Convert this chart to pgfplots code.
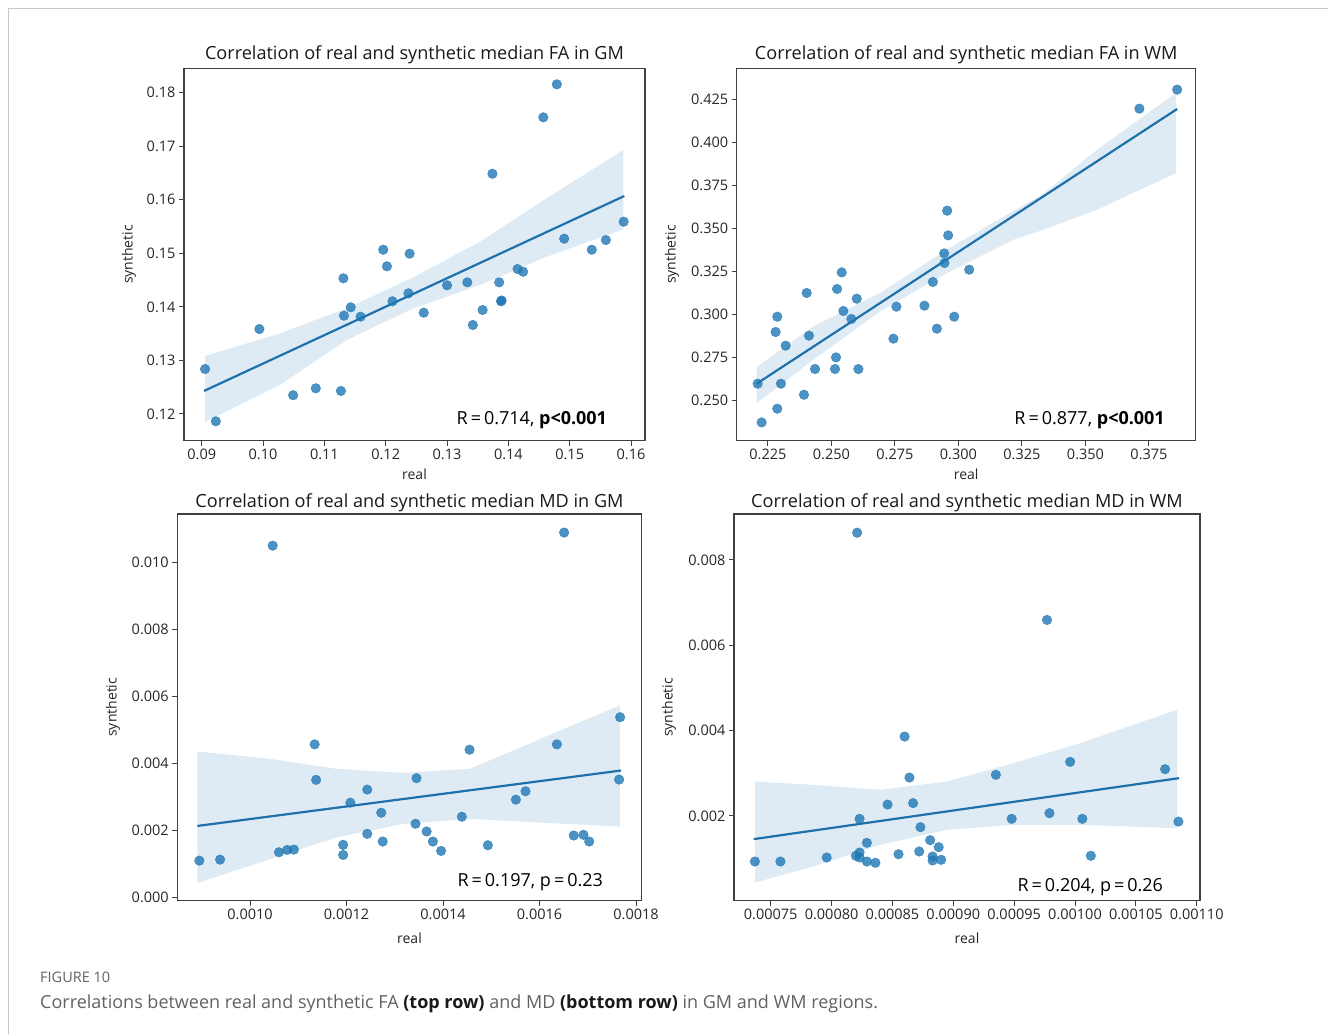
\documentclass[border=0pt]{standalone}
\usepackage{fontspec}
\setmainfont{Open Sans}
\usepackage{pgfplots}
\pgfplotsset{compat=1.18}

\definecolor{sbblue}{RGB}{31,119,180}

\tikzset{stat/.style={font=\fontsize{18}{21}\selectfont, anchor=base east, inner sep=0pt}}

\pgfplotsset{
  every axis title/.style={at={(0.5,1)}, anchor=base, font=\fontsize{18.1}{21}\selectfont, text=black!90},
  corr/.style={
    scale only axis,
    anchor=north west,
    axis line style={black!75, line width=1.1pt},
    tick align=outside,
    tick pos=left,
    major tick length=5pt,
    tick style={black!75, line width=1pt},
    ticklabel style={font=\fontsize{14.5}{16}\selectfont, text=black!85},
    scaled ticks=false,
    /pgf/number format/assume math mode=true,
    xlabel={real}, ylabel={synthetic},
    label style={font=\fontsize{14}{16}\selectfont, text=black!85},
  },
  dots/.style={only marks, mark=*, mark size=4.8pt,
    mark options={sbblue, opacity=0.8}},
  fitline/.style={sbblue!95!black, line width=2.2pt, no marks},
  band/.style={fill=sbblue, fill opacity=0.15, draw=none},
}

\begin{document}
\begin{tikzpicture}
\path[use as bounding box] (0,0) rectangle (1328pt,-1034pt);
\draw[black!22, line width=1pt] (8pt,-1034pt) -- (8pt,-8pt) -- (1328pt,-8pt);

% ---- FA in GM ----
\begin{axis}[corr,
  at={(184pt,-68.3pt)}, width=461pt, height=372.4pt,
  title={Correlation of real and synthetic median FA in GM},
  title style={yshift=9.3pt},
  xmin=0.08711, xmax=0.16228, ymin=0.11501, ymax=0.18456,
  xtick={0.09,0.10,0.11,0.12,0.13,0.14,0.15,0.16},
  ytick={0.12,0.13,0.14,0.15,0.16,0.17,0.18},
  xticklabel style={/pgf/number format/.cd, fixed, fixed zerofill, precision=2},
  yticklabel style={/pgf/number format/.cd, fixed, fixed zerofill, precision=2},
  xlabel style={at={(0.5,0)}, anchor=base, yshift=-38.3pt},
  ylabel style={at={(0,0.5)}, anchor=center, yshift=55pt},
]
\addplot[band] coordinates {
  (0.09054,0.13083) (0.10277,0.13507) (0.11364,0.13973) (0.12450,0.14552)
  (0.13538,0.15218) (0.14625,0.16028) (0.15875,0.16930)
  (0.15875,0.15449) (0.14625,0.14938) (0.13538,0.14409) (0.12450,0.13973)
  (0.11364,0.13382) (0.10277,0.12542) (0.09054,0.11857)} -- cycle;
\addplot[dots] coordinates {
  (0.09054,0.1284) (0.0923,0.11864) (0.0994,0.13587) (0.1049,0.1235)
  (0.1086,0.1248) (0.1127,0.1243) (0.1131,0.14534) (0.1132,0.13836)
  (0.1143,0.13992) (0.1159,0.13817) (0.1196,0.15068) (0.1202,0.14758)
  (0.1211,0.14105) (0.1237,0.14254) (0.1239,0.14994) (0.1262,0.13892)
  (0.1300,0.14403) (0.1333,0.14459) (0.1342,0.13662) (0.1358,0.13942)
  (0.1374,0.16487) (0.1385,0.14459) (0.1388,0.14105) (0.1389,0.1412)
  (0.1415,0.14708) (0.1424,0.14657) (0.1457,0.1754) (0.1479,0.18157)
  (0.1491,0.15274) (0.1536,0.15068) (0.1559,0.15249) (0.1588,0.15591)};
\addplot[fitline] coordinates {(0.09037,0.12430) (0.15891,0.16071)};
\node[stat] at (rel axis cs:0.918,0.044) {R\,=\,0.714, \textbf{p<0.001}};
\end{axis}

% ---- FA in WM ----
\begin{axis}[corr,
  at={(736.7pt,-68.3pt)}, width=459pt, height=372.4pt,
  title={Correlation of real and synthetic median FA in WM},
  title style={yshift=9.3pt},
  xmin=0.2127, xmax=0.3934, ymin=0.22631, ymax=0.44304,
  xtick={0.225,0.25,0.275,0.3,0.325,0.35,0.375},
  ytick={0.25,0.275,0.3,0.325,0.35,0.375,0.4,0.425},
  xticklabel style={/pgf/number format/.cd, fixed, fixed zerofill, precision=3},
  yticklabel style={/pgf/number format/.cd, fixed, fixed zerofill, precision=3},
  xlabel style={at={(0.5,0)}, anchor=base, yshift=-38.3pt},
  ylabel style={at={(0,0.5)}, anchor=center, yshift=64.7pt},
]
\addplot[band] coordinates {
  (0.22055,0.26913) (0.24286,0.29284) (0.26915,0.31228) (0.29544,0.33749)
  (0.32169,0.36) (0.33351,0.37008) (0.35456,0.39569) (0.3857,0.4287)
  (0.3857,0.38213) (0.35456,0.36077) (0.33351,0.34913) (0.32169,0.34331)
  (0.29544,0.32392) (0.26915,0.30157) (0.24286,0.27346) (0.22055,0.24825)} -- cycle;
\addplot[dots] coordinates {
  (0.22094,0.25949) (0.22252,0.23696) (0.22803,0.28958) (0.22867,0.29849)
  (0.22867,0.24494) (0.23012,0.25949) (0.23197,0.28161) (0.23919,0.25308)
  (0.24025,0.31228) (0.24116,0.28743) (0.24353,0.26804) (0.25141,0.26804)
  (0.25180,0.2748) (0.2522,0.31461) (0.25405,0.32427) (0.25468,0.3018)
  (0.25783,0.29715) (0.25996,0.30896) (0.2606,0.268) (0.27439,0.28568)
  (0.27557,0.30431) (0.28661,0.30489) (0.28992,0.31868) (0.2915,0.2915)
  (0.29437,0.33533) (0.2945,0.32974) (0.29556,0.36019) (0.29595,0.34581)
  (0.29832,0.29849) (0.30423,0.32584) (0.37124,0.41956) (0.3861,0.43062)};
\addplot[fitline] coordinates {(0.22055,0.25949) (0.3861,0.41938)};
\node[stat] at (rel axis cs:0.933,0.044) {R\,=\,0.877, \textbf{p<0.001}};
\end{axis}

% ---- MD in GM ----
\begin{axis}[corr,
  at={(177.3pt,-514pt)}, width=464.4pt, height=386.5pt,
  title={Correlation of real and synthetic median MD in GM},
  title style={yshift=7pt},
  xmin=0.0008493, xmax=0.0018118, ymin=-0.00009, ymax=0.011444,
  xtick={0.001,0.0012,0.0014,0.0016,0.0018},
  ytick={0,0.002,0.004,0.006,0.008,0.01},
  xticklabel style={/pgf/number format/.cd, fixed, fixed zerofill, precision=4},
  yticklabel style={/pgf/number format/.cd, fixed, fixed zerofill, precision=3},
  xlabel style={at={(0.5,0)}, anchor=base, yshift=-42.5pt},
  ylabel style={at={(0,0.5)}, anchor=center, yshift=64.3pt},
]
\addplot[band] coordinates {
  (0.000891,0.004357) (0.0010415,0.004139) (0.0011797,0.00384) (0.0013177,0.00372)
  (0.001456,0.00384) (0.0015942,0.004686) (0.0017668,0.005733)
  (0.0017668,0.002114) (0.0015942,0.002243) (0.001456,0.002344) (0.0013177,0.002195)
  (0.0011797,0.001794) (0.0010415,0.001148) (0.000891,0.00043)} -- cycle;
\addplot[dots] coordinates {
  (0.000895,0.0011) (0.000938,0.00113) (0.001047,0.0105) (0.00106,0.00135)
  (0.001077,0.00142) (0.001091,0.00143) (0.001134,0.00457) (0.001137,0.00351)
  (0.001193,0.00157) (0.001193,0.00127) (0.001208,0.00283) (0.001243,0.00322)
  (0.001243,0.0019) (0.001272,0.00253) (0.001275,0.00167) (0.001345,0.00356)
  (0.001343,0.0022) (0.001366,0.00197) (0.001379,0.00167) (0.001396,0.00139)
  (0.001439,0.00241) (0.001455,0.00441) (0.001493,0.00156) (0.001551,0.00292)
  (0.001571,0.00317) (0.001636,0.00457) (0.001651,0.01089) (0.001671,0.00185)
  (0.001691,0.00187) (0.001703,0.00167) (0.001765,0.00352) (0.001767,0.00538)};
\addplot[fitline] coordinates {(0.000891,0.002135) (0.001769,0.003789)};
\node[stat] at (rel axis cs:0.917,0.0375) {R\,=\,0.197, p\,=\,0.23};
\end{axis}

% ---- MD in WM ----
\begin{axis}[corr,
  at={(734pt,-514pt)}, width=466pt, height=386.7pt,
  title={Correlation of real and synthetic median MD in WM},
  title style={yshift=7pt},
  xmin=0.00071985, xmax=0.0011027, ymin=0.00001, ymax=0.009078,
  xtick={0.00075,0.0008,0.00085,0.0009,0.00095,0.001,0.00105,0.0011},
  ytick={0.002,0.004,0.006,0.008},
  xticklabel style={/pgf/number format/.cd, fixed, fixed zerofill, precision=5},
  yticklabel style={/pgf/number format/.cd, fixed, fixed zerofill, precision=3},
  xlabel style={at={(0.5,0)}, anchor=base, yshift=-42.5pt},
  ylabel style={at={(0,0.5)}, anchor=center, yshift=65pt},
]
\addplot[band] coordinates {
  (0.0007371,0.002804) (0.000785,0.002727) (0.0008398,0.002609) (0.0008946,0.002804)
  (0.0009493,0.003235) (0.0010041,0.003703) (0.0010836,0.004484)
  (0.0010836,0.001711) (0.0010041,0.001789) (0.0009493,0.001789) (0.0008946,0.001672)
  (0.0008398,0.00132) (0.000785,0.000812) (0.0007371,0.000437)} -- cycle;
\addplot[dots] coordinates {
  (0.000737,0.000929) (0.000758,0.000929) (0.000796,0.001023) (0.000821,0.00864)
  (0.00082,0.001063) (0.000823,0.00114) (0.000823,0.001023) (0.000823,0.00193)
  (0.000829,0.001367) (0.000829,0.000929) (0.000836,0.000898) (0.000846,0.002265)
  (0.000855,0.0011) (0.00086,0.003859) (0.000864,0.002898) (0.000867,0.002298)
  (0.000872,0.001164) (0.000873,0.001735) (0.000881,0.00143) (0.000883,0.001047)
  (0.000883,0.000953) (0.000888,0.001266) (0.00089,0.000969) (0.000935,0.002961)
  (0.000948,0.00193) (0.000977,0.006594) (0.000979,0.002063) (0.000996,0.003266)
  (0.001006,0.00193) (0.001013,0.001063) (0.001074,0.003094) (0.001085,0.001866)};
\addplot[fitline] coordinates {(0.000736,0.001454) (0.0010855,0.002884)};
\node[stat] at (rel axis cs:0.921,0.025) {R\,=\,0.204, p\,=\,0.26};
\end{axis}

\node[anchor=base west, inner sep=0pt, text=black!62, font=\fontsize{14.5}{17}\selectfont]
  at (40pt,-982pt) {FIGURE 10};
\node[anchor=base west, inner sep=0pt, text=black!62, font=\fontsize{18}{21}\selectfont]
  at (40pt,-1008pt) {Correlations between real and synthetic FA \textcolor{black!90}{\textbf{(top row)}} and MD \textcolor{black!90}{\textbf{(bottom row)}} in GM and WM regions.};
\end{tikzpicture}
\end{document}
